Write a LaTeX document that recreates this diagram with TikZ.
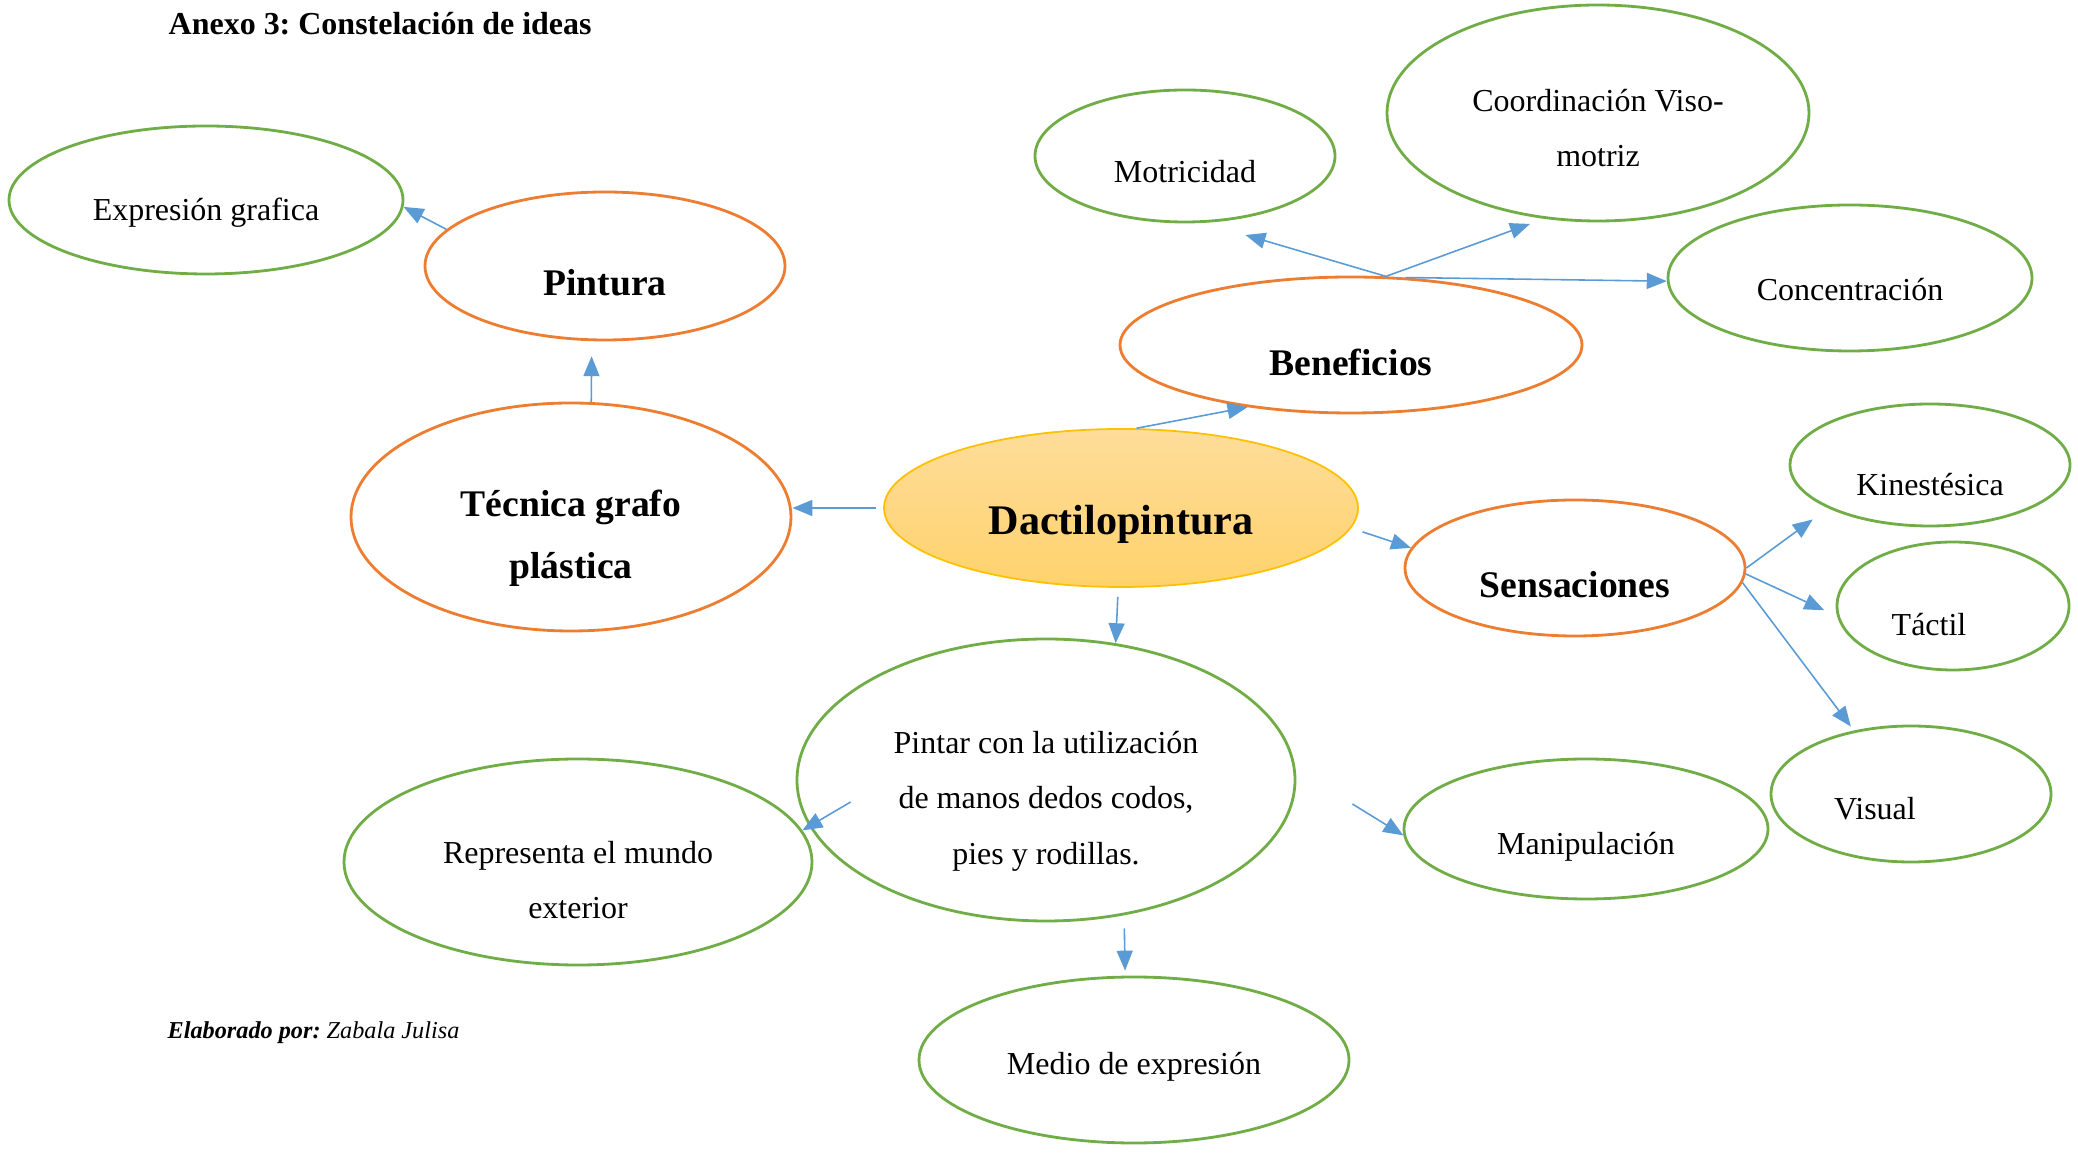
\documentclass[tikz,border=0pt]{standalone}
\usepackage{fontspec}
\setmainfont{Liberation Serif}
\usetikzlibrary{shapes.geometric, arrows.meta}
\definecolor{linkblue}{HTML}{5B9BD5}
\definecolor{branchorange}{HTML}{ED7D31}
\definecolor{leafgreen}{HTML}{70AD47}
\definecolor{coregold}{HTML}{FFC000}
\definecolor{coretop}{HTML}{FEDD9A}
\definecolor{corebottom}{HTML}{FFD26C}
\newcommand*{\plainsz}{\fontsize{9.1}{15.8}\selectfont}
\newcommand*{\boldsz}{\fontsize{10.7}{17.7}\selectfont\bfseries}
\frenchspacing

\begin{document}
\begin{tikzpicture}
[
    core/.style={ellipse, draw=coregold, line width=0.5pt, top color=coretop, bottom color=corebottom, inner sep=0pt},
    branch/.style={ellipse, draw=branchorange, line width=0.8pt, inner sep=0pt},
    leaf/.style={ellipse, draw=leafgreen, line width=0.8pt, inner sep=0pt},
    txt/.style={align=center, font=\plainsz},
    btxt/.style={align=center, font=\boldsz},
    arrow/.style={draw, -{Triangle[length=2mm, width=1.6mm]}, color=linkblue, line width=0.45pt},
]
\useasboundingbox (0,0) rectangle (20.78,-11.53);

% Title and author
\node[anchor=base west, inner sep=0pt, font=\fontsize{9.1}{11}\selectfont\bfseries] (title) at (1.68,-0.35) {Anexo 3: Constelación de ideas};
\node[anchor=base west, inner sep=0pt, font=\fontsize{6.9}{8}\selectfont\itshape] (autor) at (1.67,-10.39) {\textbf{Elaborado por:} Zabala Julisa};

% Central idea
\node[core, minimum width=4.74cm, minimum height=1.58cm,
      label={[font=\fontsize{12}{14}\selectfont\bfseries, yshift=-1.6mm]center:Dactilopintura}] (dact) at (11.21,-5.08) {};

% Main branches
\node[branch, minimum width=4.62cm, minimum height=1.36cm, label={[btxt, yshift=-1.7mm]center:Beneficios}] (benef) at (13.51,-3.45) {};
\node[branch, minimum width=4.40cm, minimum height=2.28cm, label={[btxt, yshift=-2.1mm]center:Técnica grafo\\plástica}] (tecn) at (5.71,-5.17) {};
\node[branch, minimum width=3.60cm, minimum height=1.48cm, label={[btxt, yshift=-1.7mm]center:Pintura}] (pint) at (6.05,-2.66) {};
\node[branch, minimum width=3.40cm, minimum height=1.36cm, label={[btxt, yshift=-1.7mm]center:Sensaciones}] (sens) at (15.75,-5.68) {};

% Leaves
\node[leaf, minimum width=3.94cm, minimum height=1.48cm, label={[txt, yshift=-1.3mm]center:Expresión grafica}] (expr) at (2.06,-2.00) {};
\node[leaf, minimum width=3.00cm, minimum height=1.32cm, label={[txt, yshift=-1.6mm]center:Motricidad}] (motr) at (11.85,-1.56) {};
\node[leaf, minimum width=4.22cm, minimum height=2.16cm, label={[txt, yshift=-1.5mm]center:Coordinación Viso-\\motriz}] (coord) at (15.98,-1.13) {};
\node[leaf, minimum width=3.64cm, minimum height=1.46cm, label={[txt, yshift=-1.2mm]center:Concentración}] (conc) at (18.50,-2.78) {};
\node[leaf, minimum width=2.80cm, minimum height=1.22cm, label={[txt, yshift=-2.0mm]center:Kinestésica}] (kin) at (19.30,-4.65) {};
\node[leaf, minimum width=2.32cm, minimum height=1.28cm, label={[txt, xshift=-2.4mm, yshift=-1.9mm]center:Táctil}] (tact) at (19.53,-6.06) {};
\node[leaf, minimum width=2.80cm, minimum height=1.36cm, label={[txt, xshift=-3.6mm, yshift=-1.5mm]center:Visual}] (vis) at (19.11,-7.94) {};
\node[leaf, minimum width=3.64cm, minimum height=1.40cm, label={[txt, yshift=-1.8mm]center:Manipulación}] (manip) at (15.86,-8.29) {};
\node[leaf, minimum width=4.98cm, minimum height=2.82cm, label={[txt, yshift=-2.1mm]center:Pintar con la utilización\\de manos dedos codos,\\pies y rodillas.}] (pintar) at (10.46,-7.80) {};
\node[leaf, minimum width=4.68cm, minimum height=2.06cm, label={[txt, yshift=-1.8mm]center:Representa el mundo\\exterior}] (repr) at (5.78,-8.62) {};
\node[leaf, minimum width=4.30cm, minimum height=1.66cm, label={[txt, yshift=-0.7mm]center:Medio de expresión}] (medio) at (11.34,-10.60) {};

% Connectors
\draw[arrow] (dact.79) -- (benef.211);
\draw[arrow, shorten <=0.7mm] (dact.west) -- (dact.west -| tecn.east);
\draw[arrow, shorten >=1.5mm] (tecn.80) -- (pint.260);
\draw[arrow] (pint.167) -- (expr.358);
\draw[arrow, shorten >=4.3mm] (benef.63) -- (motr.286);
\draw[arrow, shorten >=1.5mm] (benef.63) -- (coord.243);
\draw[arrow] (benef.51) -- (conc.181);
\draw[arrow, shorten <=1.2mm] (dact.355) -- (sens.173);
\draw[arrow, shorten >=1.9mm] (sens.0) -- (kin.203);
\draw[arrow, shorten >=1.4mm] (sens.358) -- (tact.185);
\draw[arrow, shorten >=0.5mm] (sens.355) -- (vis.132);
\draw[arrow, shorten <=0.9mm] (dact.268) -- (pintar.63);
\draw[arrow] ([shift={(0.55,-0.22)}]pintar.west) -- (repr.8);
\draw[arrow] ([shift={(0.56,-0.24)}]pintar.east) -- (manip.182);
\draw[arrow, shorten <=1.3mm, shorten >=0.5mm] (pintar.300) -- (medio.96);
\end{tikzpicture}
\end{document}
